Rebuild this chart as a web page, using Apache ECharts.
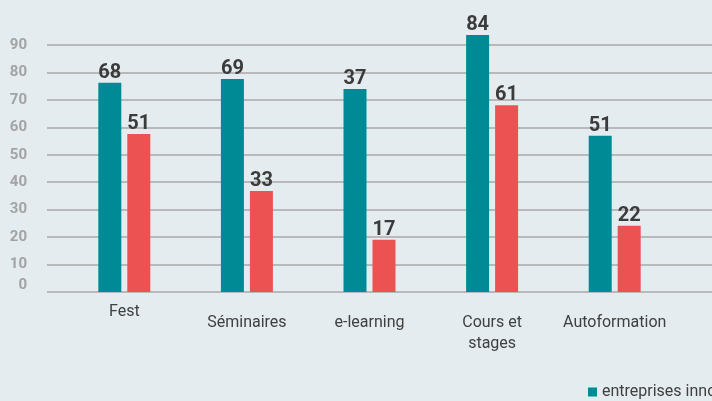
<!DOCTYPE html>
<html>
<head>
<meta charset="utf-8">
<script src="https://cdn.jsdelivr.net/npm/echarts@6/dist/echarts.min.js"></script>
<style>
  html, body { margin: 0; padding: 0; background: #e4ecef; }
  #chart { width: 712px; height: 401px; }
</style>
</head>
<body>
<div id="chart"></div>
<script>
// categories and series
const categories = ['Fest', 'Séminaires', 'e-learning', 'Cours et\nstages', 'Autoformation'];
const seriesNames = ['entreprises innovantes', 'entreprises non innovantes'];
// bar heights as drawn against the axis
const innovValues = [76.3, 77.6, 74.0, 93.7, 56.9];
const nonInnovValues = [57.6, 36.8, 19.0, 68.1, 24.1];
// value labels printed on top of the bars
const innovLabels = [68, 69, 37, 84, 51];
const nonInnovLabels = [51, 33, 17, 61, 22];

const chart = echarts.init(document.getElementById('chart'), null, { renderer: 'canvas' });

const labelStyle = (labels) => ({
  show: true,
  position: 'top',
  distance: 0,
  fontFamily: 'Roboto',
  fontSize: 20,
  fontWeight: 'bold',
  color: '#3b3b3b',
  formatter: (p) => String(labels[p.dataIndex]),
});

const tickFont = { fontFamily: 'Roboto', fontSize: 15, fontWeight: 'bold', color: '#a3a3a3' };

chart.setOption({
  backgroundColor: '#e4ecef',
  animation: false,
  legend: {
    left: 583,
    top: 379,
    itemWidth: 9,
    itemHeight: 9,
    itemGap: 20,
    icon: 'rect',
    textStyle: { fontFamily: 'Roboto', fontSize: 16, color: '#404040' },
    data: seriesNames,
  },
  grid: [
    // gridlines and tick labels
    { left: 47, right: 0, top: 45, bottom: 109 },
    // bars
    { left: 63, right: 36, top: 17.6, bottom: 109 },
  ],
  xAxis: [
    { gridIndex: 0, type: 'value', show: false },
    {
      gridIndex: 1,
      type: 'category',
      data: categories.map((c, i) => (i === 0 ? { value: c, textStyle: { verticalAlign: 'middle' } } : c)),
      axisLine: { show: false },
      axisTick: { show: false },
      axisLabel: {
        interval: 0,
        hideOverlap: false,
        margin: 20,
        fontFamily: 'Roboto',
        fontSize: 16,
        color: '#404040',
        lineHeight: 21,
        verticalAlign: 'top',
      },
    },
  ],
  yAxis: [
    {
      gridIndex: 0,
      type: 'value',
      min: 0,
      max: 90,
      interval: 10,
      axisLine: { show: false },
      axisTick: { show: false },
      axisLabel: {
        margin: 20,
        align: 'right',
        ...tickFont,
        formatter: (v) => (v === 0 ? '{z|0}' : String(v)),
        rich: { z: { ...tickFont, padding: [0, 0, 14, 0] } },
      },
      splitLine: { lineStyle: { color: '#a8a8a8', width: 1.5 } },
    },
    {
      gridIndex: 1,
      type: 'value',
      min: 0,
      max: 100,
      show: false,
      splitLine: { show: false },
    },
  ],
  series: [
    {
      name: seriesNames[0],
      type: 'bar',
      xAxisIndex: 1,
      yAxisIndex: 1,
      barWidth: 23,
      barGap: '26%',
      itemStyle: { color: '#008a96' },
      label: labelStyle(innovLabels),
      data: innovValues,
    },
    {
      name: seriesNames[1],
      type: 'bar',
      xAxisIndex: 1,
      yAxisIndex: 1,
      barWidth: 23,
      barGap: '26%',
      itemStyle: { color: '#ed5252' },
      label: labelStyle(nonInnovLabels),
      data: nonInnovValues,
    },
  ],
});
</script>
</body>
</html>
